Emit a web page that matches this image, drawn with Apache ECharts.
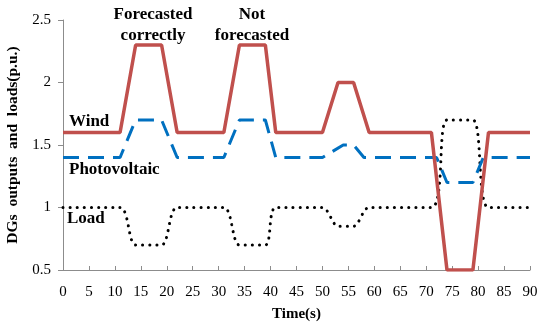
<!DOCTYPE html>
<html lang="en" style="height: 100%">
<head>
    <meta charset="UTF-8">
    <title>DGs outputs and loads</title>
    <script src="https://cdn.jsdelivr.net/npm/echarts@6/dist/echarts.min.js"></script>
</head>
<body style="height: 100%; margin: 0; background: #fff">
    <div id="main" style="width: 539px; height: 324px"></div>
    <script>
        // time points (s) and values (p.u.)
        var windT = [0, 11, 14, 19, 22, 31, 34, 39, 41, 50, 53, 56, 59, 71, 74, 79, 82, 90];
        var windV = [1.6, 1.6, 2.3, 2.3, 1.6, 1.6, 2.3, 2.3, 1.6, 1.6, 2.0, 2.0, 1.6, 1.6, 0.5, 0.5, 1.6, 1.6];

        var pvT = [0, 11, 14, 19, 22, 31, 34, 39, 41, 50, 54, 56, 58, 72, 74, 79, 81, 90];
        var pvV = [1.4, 1.4, 1.7, 1.7, 1.4, 1.4, 1.7, 1.7, 1.4, 1.4, 1.5, 1.5, 1.4, 1.4, 1.2, 1.2, 1.4, 1.4];

        var loadT = [0, 11, 14, 19, 22, 31, 34, 39, 41, 50, 53, 56, 59, 71, 74, 79, 82, 90];
        var loadV = [1, 1, 0.7, 0.7, 1, 1, 0.7, 0.7, 1, 1, 0.85, 0.85, 1, 1, 1.7, 1.7, 1, 1];

        var seriesNames = ['Wind', 'Photovoltaic', 'Load'];
        var notes = ['Forecasted\ncorrectly', 'Not\nforecasted'];

        function pairs(t, v) {
            var out = [];
            for (var i = 0; i < t.length; i++) out.push([t[i], v[i]]);
            return out;
        }

        var font = '"Liberation Serif", "Times New Roman", serif';
        var axisColor = '#8c8c8c';

        var myChart = echarts.init(document.getElementById('main'));

        var option = {
            animation: false,
            grid: { left: 63, right: 9, top: 20, bottom: 54, outerBoundsMode: 'none', containLabel: false },
            xAxis: {
                type: 'value',
                min: 0, max: 90, interval: 5,
                name: 'Time(s)',
                nameLocation: 'middle',
                nameGap: 37,
                nameTextStyle: { fontFamily: font, fontWeight: 'bold', fontSize: 15, color: '#000' },
                axisLine: { lineStyle: { color: axisColor } },
                axisTick: { inside: true, length: 4, lineStyle: { color: axisColor } },
                axisLabel: { margin: 15, fontFamily: font, fontSize: 15, color: '#000' },
                splitLine: { show: false }
            },
            yAxis: {
                type: 'value',
                min: 0.5, max: 2.5, interval: 0.5,
                name: 'DGs  outputs  and  loads(p.u.)',
                nameLocation: 'middle',
                nameRotate: 90,
                nameGap: 34,
                nameTextStyle: { fontFamily: font, fontWeight: 'bold', fontSize: 15.5, color: '#000' },
                axisLine: { show: true, lineStyle: { color: axisColor } },
                axisTick: { show: true, length: 5, lineStyle: { color: axisColor } },
                axisLabel: { margin: 12, fontFamily: font, fontSize: 15, color: '#000' },
                splitLine: { show: false }
            },
            series: [
                {
                    name: seriesNames[2],
                    type: 'line',
                    data: pairs(loadT, loadV),
                    symbol: 'none',
                    smooth: 0.3,
                    lineStyle: { color: '#000', width: 3, type: [0.1, 7], cap: 'round' }
                },
                {
                    name: seriesNames[1],
                    type: 'line',
                    data: pairs(pvT, pvV),
                    symbol: 'none',
                    lineStyle: { color: '#0070C0', width: 3, type: [16, 9] }
                },
                {
                    name: seriesNames[0],
                    type: 'line',
                    data: pairs(windT, windV),
                    symbol: 'none',
                    lineStyle: { color: '#C0504D', width: 3.5 }
                }
            ],
            graphic: [
                { type: 'text', left: 69, top: 113, style: { text: seriesNames[0], font: 'bold 17px ' + font, fill: '#000' } },
                { type: 'text', left: 69, top: 161, style: { text: seriesNames[1], font: 'bold 17px ' + font, fill: '#000' } },
                { type: 'text', left: 67, top: 210, style: { text: seriesNames[2], font: 'bold 17px ' + font, fill: '#000' } },
                { type: 'text', x: 153, y: 4, style: { text: notes[0], font: 'bold 17px ' + font, fill: '#000', textAlign: 'center', lineHeight: 21 } },
                { type: 'text', x: 252, y: 4, style: { text: notes[1], font: 'bold 17px ' + font, fill: '#000', textAlign: 'center', lineHeight: 21 } }
            ]
        };

        myChart.setOption(option);
        window.addEventListener('resize', myChart.resize);
    </script>
</body>
</html>
